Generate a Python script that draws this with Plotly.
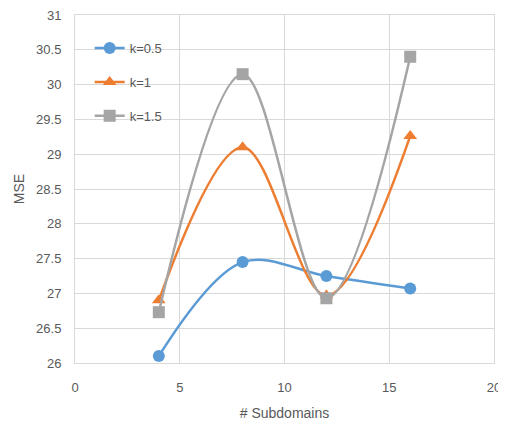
import plotly.graph_objects as go

x_vals = [4, 8, 12, 16]
k05 = [26.1, 27.45, 27.25, 27.07]
k1 = [26.9, 29.1, 26.97, 29.26]
k15 = [26.73, 30.15, 26.93, 30.4]
names = ["k=0.5", "k=1", "k=1.5"]
colors = ["#5B9BD5", "#ED7D31", "#A5A5A5"]
symbols = ["circle", "triangle-up", "square"]

FONT = "Liberation Sans Narrow, Arial Narrow, Liberation Sans, sans-serif"
GRID = "#D9D9D9"

fig = go.Figure()
for i, (ys, nm) in enumerate(zip([k05, k1, k15], names)):
    fig.add_trace(go.Scatter(
        x=x_vals, y=ys, name=nm, mode="lines+markers",
        line=dict(color=colors[i], width=2.5, shape="spline", smoothing=1.0),
        marker=dict(color=colors[i], symbol=symbols[i], size=12),
        legendgroup=nm,
    ))

fig.update_layout(
    width=506, height=430,
    margin=dict(l=67, r=20, t=7, b=75, autoexpand=False),
    paper_bgcolor="white", plot_bgcolor="white",
    font=dict(family=FONT, size=13, color="#595959"),
    showlegend=True,
    legend=dict(x=0.035, y=0.948, xanchor="left", yanchor="top",
                bgcolor="rgba(0,0,0,0)", tracegroupgap=14,
                font=dict(family=FONT, size=13, color="#595959"),
                itemwidth=30),
    xaxis=dict(range=[0, 20], dtick=5, tick0=0, showgrid=True, automargin=False,
               gridcolor=GRID, gridwidth=1, zeroline=False,
               showline=True, mirror=True, linecolor=GRID, linewidth=1,
               ticks="", ticklabelstandoff=12, ticklabeloverflow="allow",
               title=dict(text="# Subdomains", standoff=14,
                          font=dict(size=14, color="#595959"))),
    yaxis=dict(range=[26, 31], dtick=0.5, tick0=26, showgrid=True, automargin=False,
               gridcolor=GRID, gridwidth=1, zeroline=False,
               showline=True, mirror=True, linecolor=GRID, linewidth=1,
               ticks="", ticklabelstandoff=10, ticklabeloverflow="allow",
               title=dict(text="MSE", standoff=8,
                          font=dict(size=14, color="#595959"))),
)

fig.write_html("out.html")
